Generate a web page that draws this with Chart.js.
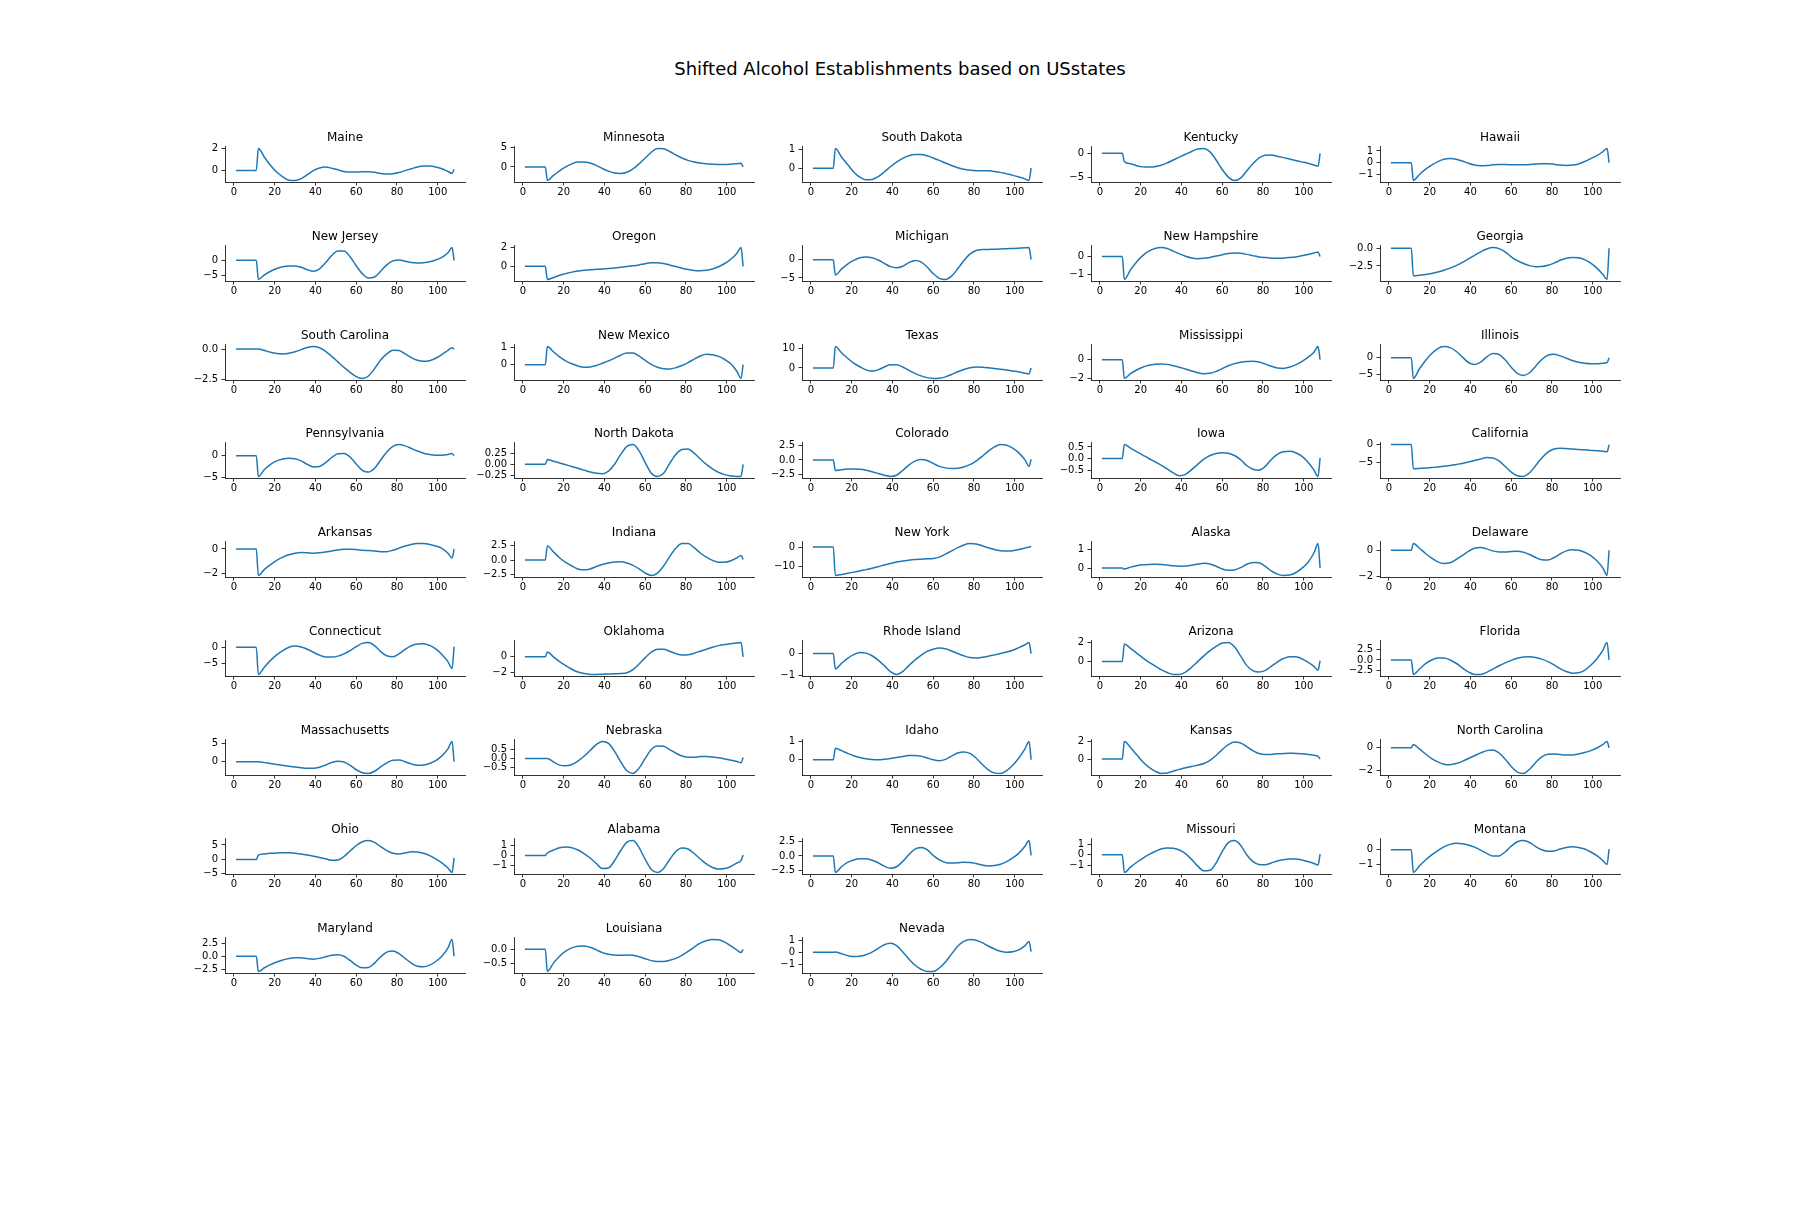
<!DOCTYPE html>
<html>
<head>
<meta charset="utf-8">
<script src="https://cdn.jsdelivr.net/npm/chart.js@4.4.0/dist/chart.umd.min.js"></script>
<style>
html,body{margin:0;padding:0;background:#fff;}
#page{position:relative;width:1800px;height:1224px;overflow:hidden;background:#fff;}
#suptitle{position:absolute;left:0;width:1800px;top:60px;text-align:center;font-family:'DejaVu Sans',sans-serif;font-size:18px;line-height:18px;color:#000;white-space:nowrap;}
.cell{position:absolute;}
.cell canvas{display:block;}
</style>
</head>
<body>
<div id="page"><div id="suptitle">Shifted Alcohol Establishments based on USstates</div></div>
<script>
// ---- data ----
const xs = [1, 11, 12, 15, 18, 21, 24, 27, 30, 33, 36, 39, 42, 45, 48, 51, 54, 57, 60, 63, 66, 69, 72, 75, 78, 81, 84, 87, 90, 93, 96, 99, 102, 105, 107, 108];
const xTicks = [0, 20, 40, 60, 80, 100];

const maine = [0,0, 2.0,1.2,0.45,-0.15,-0.6, -0.9,-0.92,-0.75,-0.4,-0.02, 0.22,0.3,0.2,0.05,-0.1, -0.15,-0.15,-0.13,-0.13,-0.18, -0.28,-0.33,-0.3,-0.2,-0.02, 0.15,0.32,0.4,0.4,0.32, 0.15,-0.1, -0.27,0.1];
const minnesota = [0,0, -3.5,-2.2,-1.0,0.0,0.8, 1.3,1.3,1.0,0.4,-0.4, -1.1,-1.6,-1.7,-1.4,-0.5, 0.8,2.3,3.8,4.75,4.7, 4.0,3.1,2.3,1.7,1.3, 1.0,0.8,0.7,0.6,0.6, 0.7,0.85, 0.95,0];
const southDakota = [0,0, 1.05,0.6,0.2,-0.2,-0.48, -0.62,-0.6,-0.45,-0.2,0.08, 0.33,0.53,0.67,0.74,0.74, 0.67,0.55,0.42,0.28,0.15, 0.03,-0.05,-0.1,-0.13,-0.13, -0.14,-0.17,-0.22,-0.3,-0.38, -0.47,-0.57, -0.65,0];
const kentucky = [0,0, -1.7,-2.2,-2.6,-2.85,-2.9, -2.8,-2.5,-2.0,-1.4,-0.8, -0.2,0.4,0.9,1.0,0.3, -1.4,-3.4,-5.0,-5.7,-5.2, -3.7,-2.2,-1.0,-0.4,-0.35, -0.6,-0.9,-1.2,-1.5,-1.8, -2.1,-2.45, -2.7,0];
const hawaii = [0,0, -1.5,-1.0,-0.55,-0.2,0.1, 0.3,0.35,0.3,0.15,-0.05, -0.2,-0.25,-0.23,-0.18,-0.15, -0.15,-0.17,-0.18,-0.17,-0.14, -0.1,-0.08,-0.08,-0.13,-0.2, -0.23,-0.2,-0.1,0.1,0.35, 0.6,0.95, 1.2,0];
const newJersey = [0,0, -6.3,-4.8,-3.6,-2.7,-2.1, -1.85,-1.9,-2.3,-3.1,-3.6, -2.8,-0.8,1.6,3.1,3.1, 1.2,-1.8,-4.4,-5.8,-5.5, -3.6,-1.5,-0.2,0.1,-0.3, -0.75,-0.9,-0.8,-0.5,0.1, 1.0,2.5, 4.2,0];
const oregon = [0,0, -1.4,-1.2,-0.95,-0.78,-0.62, -0.5,-0.42,-0.36,-0.32,-0.28, -0.23,-0.17,-0.1,-0.03,0.05, 0.15,0.28,0.38,0.38,0.3, 0.15,-0.02,-0.2,-0.35,-0.45, -0.48,-0.43,-0.28,-0.05,0.3, 0.75,1.4, 2.0,0];
const michigan = [0,0, -4.2,-2.6,-1.2,-0.2,0.5, 0.7,0.5,-0.1,-1.0,-1.9, -2.2,-1.8,-0.8,-0.2,-0.6, -2.0,-3.8,-5.1,-5.4,-4.5, -2.5,-0.3,1.5,2.5,2.75, 2.8,2.85,2.9,3.0,3.05, 3.15,3.25, 3.3,0];
const newHampshire = [0,0, -1.28,-0.75,-0.3,0.05,0.3, 0.45,0.5,0.45,0.3,0.15, 0.02,-0.08,-0.12,-0.1,-0.05, 0.03,0.1,0.17,0.2,0.18, 0.12,0.05,-0.02,-0.06,-0.09, -0.1,-0.09,-0.06,-0.02,0.04, 0.11,0.2, 0.25,0];
const georgia = [0,0, -3.9,-3.8,-3.7,-3.55,-3.35, -3.1,-2.8,-2.45,-2.0,-1.5, -1.0,-0.5,-0.1,0.1,-0.05, -0.5,-1.2,-1.75,-2.15,-2.45, -2.6,-2.58,-2.4,-2.1,-1.7, -1.4,-1.3,-1.35,-1.6,-2.1, -2.8,-3.7, -4.4,0];
const southCarolina = [0,0, 0.0,-0.12,-0.27,-0.37,-0.4, -0.35,-0.22,-0.05,0.13,0.2, 0.1,-0.2,-0.6,-1.05,-1.5, -1.9,-2.25,-2.4,-2.2,-1.6, -0.9,-0.4,-0.1,-0.12,-0.4, -0.7,-0.92,-1.0,-0.95,-0.75, -0.45,-0.1, 0.1,0];
const newMexico = [0,0, 1.05,0.75,0.45,0.22,0.05, -0.08,-0.15,-0.13,-0.05,0.08, 0.22,0.38,0.55,0.68,0.68, 0.5,0.25,0.02,-0.15,-0.24, -0.25,-0.18,-0.05,0.12,0.32, 0.5,0.6,0.58,0.48,0.3, 0.05,-0.4, -0.8,0];
const texas = [0,0, 11.0,7.8,5.0,2.5,0.6, -1.0,-1.6,-1.0,0.5,1.6, 1.6,0.5,-1.2,-2.8,-4.1, -5.0,-5.4,-5.3,-4.6,-3.4, -2.0,-0.8,0.1,0.5,0.4, 0.1,-0.3,-0.7,-1.1,-1.6, -2.1,-2.7, -3.1,0];
const mississippi = [0,0, -2.0,-1.5,-1.1,-0.8,-0.6, -0.48,-0.45,-0.5,-0.65,-0.8, -1.0,-1.2,-1.4,-1.5,-1.45, -1.25,-0.95,-0.65,-0.42,-0.27, -0.18,-0.17,-0.25,-0.45,-0.7, -0.88,-0.93,-0.8,-0.55,-0.2, 0.25,0.8, 1.4,0];
const illinois = [0,0, -6.2,-3.3,-0.8,1.3,2.8, 3.4,3.1,2.0,0.3,-1.4, -2.0,-1.3,0.3,1.3,1.0, -0.6,-2.8,-4.7,-5.3,-4.5, -2.5,-0.5,0.8,1.1,0.6, -0.1,-0.8,-1.3,-1.6,-1.75, -1.75,-1.6, -1.4,0];
const pennsylvania = [0,0, -4.8,-3.2,-2.0,-1.2,-0.75, -0.55,-0.7,-1.2,-2.0,-2.6, -2.5,-1.6,-0.4,0.45,0.55, -0.3,-1.9,-3.4,-3.8,-2.9, -1.0,0.9,2.2,2.6,2.3, 1.7,1.1,0.6,0.3,0.15, 0.15,0.3, 0.5,0];
const northDakota = [0,0, 0.11,0.07,0.03,-0.01,-0.05, -0.09,-0.13,-0.17,-0.2,-0.21, -0.15,0.0,0.22,0.4,0.44, 0.3,0.04,-0.2,-0.27,-0.2, 0.02,0.22,0.33,0.34,0.25, 0.12,0.0,-0.1,-0.18,-0.23, -0.26,-0.27, -0.27,0];
const colorado = [0,0, -1.8,-1.65,-1.55,-1.55,-1.6, -1.75,-2.0,-2.3,-2.6,-2.8, -2.6,-1.8,-0.9,-0.2,0.05, -0.1,-0.6,-1.1,-1.35,-1.45, -1.4,-1.2,-0.8,-0.2,0.6, 1.5,2.2,2.6,2.5,2.0, 1.2,0.0, -1.1,0.1];
const iowa = [0,0, 0.6,0.45,0.3,0.15,0.0, -0.14,-0.28,-0.45,-0.62,-0.74, -0.68,-0.48,-0.25,-0.03,0.13, 0.22,0.25,0.23,0.13,-0.05, -0.3,-0.46,-0.5,-0.35,-0.05, 0.18,0.29,0.31,0.25,0.1, -0.15,-0.5, -0.77,0.03];
const california = [0,0, -6.7,-6.6,-6.5,-6.35,-6.2, -6.0,-5.8,-5.5,-5.2,-4.8, -4.4,-4.0,-3.55,-3.7,-4.5, -6.0,-7.6,-8.6,-8.8,-7.8, -5.8,-3.7,-2.1,-1.2,-1.0, -1.1,-1.2,-1.35,-1.45,-1.6, -1.7,-1.85, -2.0,0];
const arkansas = [0,0, -2.2,-1.7,-1.3,-0.95,-0.68, -0.48,-0.35,-0.3,-0.32,-0.35, -0.32,-0.25,-0.16,-0.08,-0.03, -0.02,-0.05,-0.1,-0.13,-0.17, -0.22,-0.22,-0.1,0.07,0.25, 0.38,0.45,0.45,0.38,0.25, 0.05,-0.35, -0.75,0];
const indiana = [0,0, 2.4,1.4,0.4,-0.4,-1.0, -1.5,-1.65,-1.5,-1.1,-0.75, -0.5,-0.32,-0.3,-0.5,-0.9, -1.5,-2.2,-2.6,-2.2,-1.0, 0.6,2.0,2.8,2.8,2.1, 1.2,0.5,-0.05,-0.35,-0.35, -0.1,0.4, 0.8,0.1];
const newYork = [0,0, -14.7,-14.2,-13.6,-13.0,-12.4, -11.7,-11.0,-10.2,-9.3,-8.5, -7.8,-7.2,-6.8,-6.5,-6.3, -6.1,-5.9,-5.2,-3.7,-2.0, -0.3,1.1,1.8,1.6,0.7, -0.4,-1.3,-1.9,-2.1,-1.9, -1.3,-0.5, 0.0,0.3];
const alaska = [0,0, -0.05,0.05,0.12,0.17,0.19, 0.2,0.19,0.16,0.12,0.1, 0.11,0.15,0.21,0.25,0.22, 0.1,-0.05,-0.12,-0.1,0.02, 0.2,0.3,0.28,0.1,-0.15, -0.32,-0.39,-0.37,-0.25,-0.02, 0.3,0.8, 1.3,0];
const delaware = [0,0, 0.5,0.15,-0.25,-0.6,-0.88, -1.0,-0.95,-0.7,-0.4,-0.08, 0.15,0.2,0.1,-0.05,-0.13, -0.14,-0.1,-0.08,-0.15,-0.32, -0.55,-0.72,-0.74,-0.55,-0.28, -0.05,0.03,0.0,-0.15,-0.4, -0.8,-1.35, -1.9,0];
const connecticut = [0,0, -8.3,-6.0,-4.0,-2.3,-1.0, 0.0,0.4,0.1,-0.6,-1.5, -2.4,-2.95,-3.0,-2.7,-2.0, -1.0,0.2,1.2,1.45,0.5, -1.3,-2.6,-2.9,-2.0,-0.6, 0.5,1.05,1.1,0.6,-0.5, -2.2,-4.4, -6.5,0.2];
const oklahoma = [0,0, 0.6,0.0,-0.6,-1.1,-1.55, -1.9,-2.1,-2.2,-2.2,-2.18, -2.15,-2.12,-2.1,-2.0,-1.6, -0.9,-0.1,0.6,0.95,0.95, 0.7,0.4,0.22,0.25,0.45, 0.7,0.95,1.2,1.4,1.55, 1.65,1.72, 1.78,0];
const rhodeIsland = [0,0, -0.7,-0.45,-0.22,-0.05,0.05, 0.02,-0.1,-0.3,-0.55,-0.82, -0.95,-0.82,-0.55,-0.3,-0.08, 0.1,0.2,0.25,0.22,0.12, 0.0,-0.1,-0.18,-0.2,-0.17, -0.12,-0.06,0.0,0.07,0.15, 0.27,0.4, 0.5,0];
const arizona = [0,0, 1.85,1.4,0.9,0.4,-0.05, -0.45,-0.85,-1.15,-1.35,-1.35, -1.1,-0.6,0.0,0.6,1.15, 1.6,1.95,2.0,1.55,0.6, -0.4,-0.95,-1.1,-0.95,-0.5, -0.05,0.32,0.52,0.5,0.3, -0.05,-0.5, -0.9,0.1];
const florida = [0,0, -3.5,-2.2,-0.9,0.0,0.45, 0.45,0.0,-0.8,-1.9,-2.9, -3.5,-3.5,-3.0,-2.2,-1.4, -0.7,-0.1,0.4,0.7,0.75, 0.6,0.2,-0.4,-1.2,-2.1, -2.8,-3.2,-3.1,-2.5,-1.3, 0.3,2.4, 4.2,0];
const massachusetts = [0,0, 0.0,-0.25,-0.5,-0.75,-1.0, -1.25,-1.45,-1.65,-1.8,-1.8, -1.5,-0.9,-0.2,0.15,-0.1, -1.0,-2.2,-3.0,-3.2,-2.6, -1.4,-0.3,0.4,0.45,0.0, -0.6,-0.95,-0.9,-0.5,0.3, 1.6,3.5, 5.5,0];
const nebraska = [0,0, 0.0,-0.2,-0.38,-0.42,-0.35, -0.15,0.12,0.45,0.78,0.95, 0.85,0.4,-0.2,-0.7,-0.85, -0.55,0.0,0.5,0.7,0.68, 0.5,0.3,0.13,0.07,0.07, 0.1,0.1,0.08,0.03,-0.03, -0.1,-0.18, -0.25,0.05];
const idaho = [0,0, 0.63,0.5,0.35,0.22,0.12, 0.05,0.01,0.0,0.03,0.07, 0.12,0.18,0.23,0.24,0.2, 0.1,0.0,-0.05,0.02,0.2, 0.37,0.43,0.35,0.1,-0.25, -0.55,-0.72,-0.75,-0.6,-0.3, 0.1,0.6, 1.0,0];
const kansas = [0,0, 1.95,1.3,0.5,-0.3,-0.9, -1.35,-1.6,-1.55,-1.35,-1.15, -0.98,-0.82,-0.68,-0.5,-0.15, 0.4,1.05,1.6,1.9,1.8, 1.4,0.95,0.62,0.5,0.52, 0.58,0.63,0.65,0.63,0.6, 0.52,0.42, 0.3,0];
const northCarolina = [0,0, 0.3,-0.1,-0.55,-0.95,-1.25, -1.45,-1.5,-1.4,-1.2,-0.95, -0.7,-0.45,-0.25,-0.2,-0.45, -1.0,-1.65,-2.15,-2.27,-1.9, -1.3,-0.8,-0.58,-0.55,-0.6, -0.63,-0.63,-0.55,-0.42,-0.25, -0.02,0.3, 0.55,0];
const ohio = [0,0, 1.5,1.9,2.1,2.25,2.3, 2.3,2.1,1.85,1.5,1.1, 0.65,0.2,-0.3,-0.2,1.0, 2.9,4.8,6.1,6.5,5.9, 4.4,3.0,2.1,1.9,2.2, 2.6,2.55,2.1,1.3,0.2, -1.2,-3.0, -4.5,0.5];
const alabama = [0,0, 0.25,0.55,0.78,0.85,0.78, 0.55,0.2,-0.25,-0.8,-1.3, -1.25,-0.5,0.5,1.35,1.5, 0.8,-0.4,-1.4,-1.7,-1.3, -0.4,0.4,0.75,0.65,0.2, -0.35,-0.85,-1.2,-1.35,-1.3, -1.1,-0.75, -0.5,0.05];
const tennessee = [0,0, -2.9,-1.9,-1.15,-0.7,-0.5, -0.5,-0.75,-1.2,-1.8,-2.15, -1.9,-1.0,0.2,1.2,1.5, 1.1,0.1,-0.7,-1.15,-1.25, -1.2,-1.1,-1.15,-1.35,-1.6, -1.75,-1.7,-1.45,-1.0,-0.35, 0.5,1.7, 2.7,0.1];
const missouri = [0,0, -1.7,-1.2,-0.75,-0.35,0.0, 0.3,0.55,0.65,0.62,0.45, 0.1,-0.45,-1.1,-1.55,-1.5, -0.8,0.3,1.15,1.35,0.9, 0.0,-0.65,-0.95,-0.97,-0.8, -0.6,-0.48,-0.42,-0.42,-0.5, -0.65,-0.85, -1.0,0.05];
const montana = [0,0, -1.55,-1.1,-0.7,-0.35,-0.05, 0.2,0.37,0.44,0.42,0.33, 0.18,-0.02,-0.25,-0.43,-0.42, -0.15,0.25,0.55,0.63,0.5, 0.22,0.0,-0.1,-0.08,0.05, 0.16,0.2,0.16,0.05,-0.15, -0.4,-0.75, -1.0,0.05];
const maryland = [0,0, -2.9,-2.2,-1.6,-1.1,-0.7, -0.42,-0.28,-0.28,-0.45,-0.55, -0.4,-0.1,0.2,0.3,0.0, -0.8,-1.7,-2.2,-2.15,-1.3, -0.1,0.8,1.0,0.5,-0.4, -1.3,-1.9,-2.0,-1.7,-1.0, 0.0,1.6, 3.2,0];
const louisiana = [0,0, -0.8,-0.5,-0.25,-0.07,0.05, 0.11,0.12,0.07,-0.02,-0.12, -0.18,-0.21,-0.22,-0.21,-0.22, -0.27,-0.34,-0.41,-0.44,-0.44, -0.4,-0.33,-0.22,-0.08,0.08, 0.22,0.31,0.35,0.34,0.26, 0.12,-0.03, -0.12,0.0];
const nevada = [0,0, 0.03,-0.12,-0.27,-0.35,-0.33, -0.2,0.02,0.32,0.62,0.74, 0.55,0.05,-0.55,-1.05,-1.4, -1.58,-1.58,-1.3,-0.8,-0.15, 0.5,0.9,1.05,1.0,0.8, 0.52,0.27,0.08,0.0,0.04, 0.2,0.55, 0.9,0.05];

const stateNames = ['Maine','Minnesota','South Dakota','Kentucky','Hawaii',
  'New Jersey','Oregon','Michigan','New Hampshire','Georgia',
  'South Carolina','New Mexico','Texas','Mississippi','Illinois',
  'Pennsylvania','North Dakota','Colorado','Iowa','California',
  'Arkansas','Indiana','New York','Alaska','Delaware',
  'Connecticut','Oklahoma','Rhode Island','Arizona','Florida',
  'Massachusetts','Nebraska','Idaho','Kansas','North Carolina',
  'Ohio','Alabama','Tennessee','Missouri','Montana',
  'Maryland','Louisiana','Nevada'];
const stateValues = [maine, minnesota, southDakota, kentucky, hawaii,
  newJersey, oregon, michigan, newHampshire, georgia,
  southCarolina, newMexico, texas, mississippi, illinois,
  pennsylvania, northDakota, colorado, iowa, california,
  arkansas, indiana, newYork, alaska, delaware,
  connecticut, oklahoma, rhodeIsland, arizona, florida,
  massachusetts, nebraska, idaho, kansas, northCarolina,
  ohio, alabama, tennessee, missouri, montana,
  maryland, louisiana, nevada];
const stateYTicks = [[0,2],[0,5],[0,1],[-5,0],[-1,0,1],
  [-5,0],[0,2],[-5,0],[-1,0],[-2.5,0.0],
  [-2.5,0.0],[0,1],[0,10],[-2,0],[-5,0],
  [-5,0],[-0.25,0,0.25],[-2.5,0,2.5],[-0.5,0,0.5],[-5,0],
  [-2,0],[-2.5,0,2.5],[-10,0],[0,1],[-2,0],
  [-5,0],[-2,0],[-1,0],[0,2],[-2.5,0,2.5],
  [0,5],[-0.5,0,0.5],[0,1],[0,2],[-2,0],
  [-5,0,5],[-1,0,1],[-2.5,0,2.5],[-1,0,1],[-1,0],
  [-2.5,0,2.5],[-0.5,0.0],[-1,0,1]];
const stateDecimals = [0,0,0,0,0, 0,0,0,0,1, 1,0,0,0,0, 0,2,1,1,0, 0,1,0,0,0, 0,0,0,0,1, 0,1,0,0,0, 0,0,1,0,0, 1,1,0];

// ---- layout ----
const COL_LEFT = [225, 514, 802, 1091, 1380];
const ROW_TOP = [147, 246, 345, 443, 542, 641, 740, 839, 938];
const AX_W = 240, AX_H = 35;
const X_MIN = -4.35, X_MAX = 113.35;
const Y_AXIS_W = 46, X_AXIS_H = 26, PAD_R = 6, TITLE_H = 16;
const FONT = "'DejaVu Sans', sans-serif";
const INK = '#000000';
const LINE = '#1f77b4';

function fmt(v, d) {
  const s = Math.abs(v).toFixed(d);
  return (v < 0 && Number(s) !== 0 ? '\u2212' : '') + s;
}

function buildConfig(i) {
  const vals = stateValues[i], yt = stateYTicks[i], dec = stateDecimals[i];
  let lo = Math.min(...vals), hi = Math.max(...vals);
  const m = (hi - lo) * 0.05; lo -= m; hi += m;
  lo = Math.min(lo, Math.min(...yt)); hi = Math.max(hi, Math.max(...yt));
  const grid = {drawOnChartArea: false, drawTicks: true, tickLength: 3.5, color: INK, lineWidth: 0.8};
  const border = {display: true, color: INK, width: 0.8};
  return {
    type: 'line',
    data: {datasets: [{
      data: xs.map((x, k) => ({x: x, y: vals[k]})),
      borderColor: LINE, borderWidth: 1.5, pointRadius: 0, pointHoverRadius: 0,
      fill: false, cubicInterpolationMode: 'monotone'
    }]},
    options: {
      responsive: false, animation: false, devicePixelRatio: 1, events: [],
      layout: {padding: {left: 0, right: PAD_R, top: 0, bottom: 0}},
      plugins: {
        legend: {display: false}, tooltip: {enabled: false},
        title: {display: true, text: stateNames[i], fullSize: false, color: INK,
                font: {family: FONT, size: 12, weight: 'normal', lineHeight: 1.2},
                padding: {top: 0, bottom: 1.6}}
      },
      scales: {
        x: {type: 'linear', min: X_MIN, max: X_MAX, grid: grid, border: border,
            afterBuildTicks: s => { s.ticks = xTicks.map(v => ({value: v})); },
            afterFit: s => { s.height = X_AXIS_H; },
            ticks: {font: {family: FONT, size: 10}, color: INK, padding: 1, maxRotation: 0, autoSkip: false,
                    callback: v => String(v)}},
        y: {type: 'linear', min: lo, max: hi, grid: grid, border: border,
            afterBuildTicks: s => { s.ticks = yt.map(v => ({value: v})); },
            afterFit: s => { s.width = Y_AXIS_W; },
            ticks: {font: {family: FONT, size: 10}, color: INK, padding: 3.5, autoSkip: false,
                    callback: v => fmt(v, dec)}}
      }
    }
  };
}

const page = document.getElementById('page');
stateNames.forEach((name, i) => {
  const col = i % 5, row = Math.floor(i / 5);
  const tx = COL_LEFT[col], ty = ROW_TOP[row];
  let W = Y_AXIS_W + AX_W + PAD_R, H = TITLE_H + AX_H + X_AXIS_H;
  let chart = null, cell = null;
  for (let attempt = 0; attempt < 3; attempt++) {
    cell = document.createElement('div');
    cell.className = 'cell';
    const cv = document.createElement('canvas');
    cv.width = W; cv.height = H;
    cv.style.width = W + 'px'; cv.style.height = H + 'px';
    cell.appendChild(cv);
    page.appendChild(cell);
    chart = new Chart(cv, buildConfig(i));
    const a = chart.chartArea;
    const dw = Math.round(AX_W - (a.right - a.left));
    const dh = Math.round(AX_H - (a.bottom - a.top));
    if ((dw !== 0 || dh !== 0) && attempt < 2) {
      chart.destroy(); page.removeChild(cell);
      W += dw; H += dh;
      continue;
    }
    cell.style.left = Math.round(tx - a.left) + 'px';
    cell.style.top = Math.round(ty - a.top) + 'px';
    break;
  }
});
</script>
</body>
</html>
